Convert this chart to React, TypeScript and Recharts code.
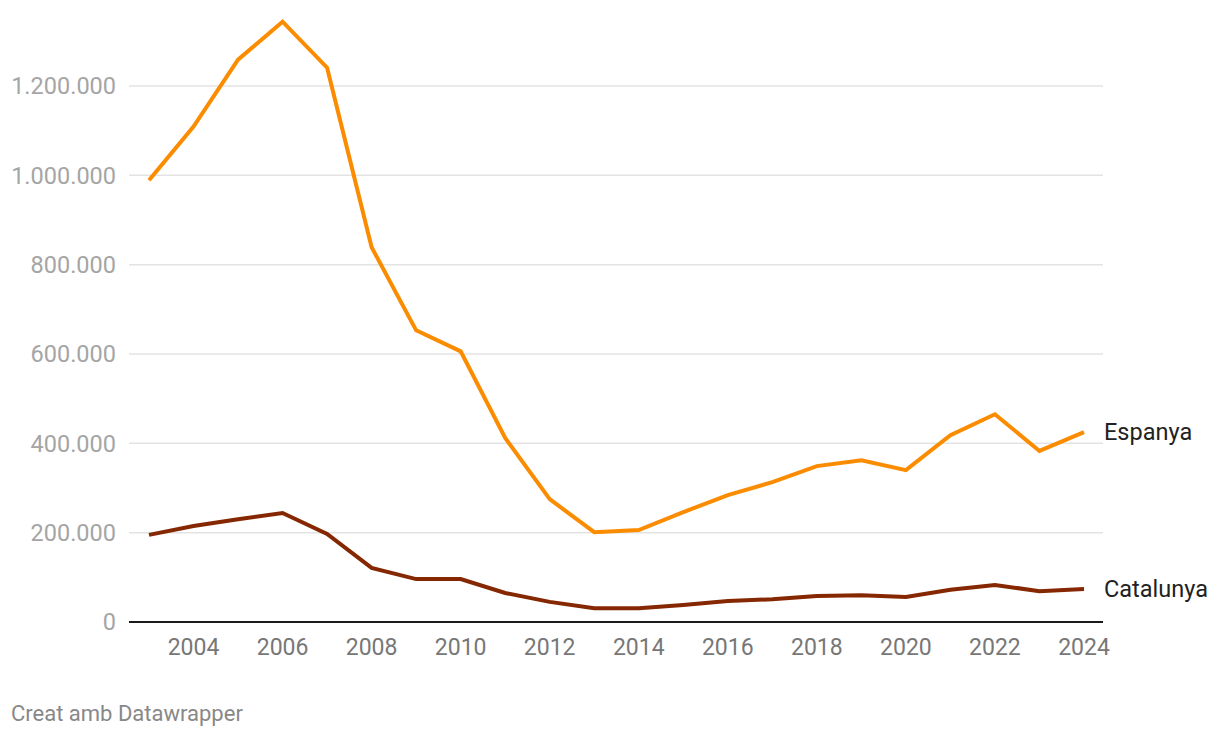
import { CartesianGrid, Line, LineChart, XAxis, YAxis } from "recharts";

const years = [
  2003, 2004, 2005, 2006, 2007, 2008, 2009, 2010, 2011, 2012, 2013, 2014, 2015, 2016, 2017, 2018,
  2019, 2020, 2021, 2022, 2023, 2024,
];
const espanya = [
  989000, 1109000, 1259000, 1344000, 1241000, 839000, 653000, 606000, 412000, 275000, 201000,
  206000, 246000, 284000, 313000, 349000, 362000, 340000, 418000, 465000, 383000, 425000,
];
const catalunya = [
  195000, 215000, 230000, 244000, 197000, 121000, 96000, 96000, 65000, 45000, 31000, 31000, 38000,
  47000, 51000, 58000, 60000, 56000, 72000, 83000, 69000, 74000,
];
const yTicks = [0, 200000, 400000, 600000, 800000, 1000000, 1200000];
const xTicks = [2004, 2006, 2008, 2010, 2012, 2014, 2016, 2018, 2020, 2022, 2024];

const data = years.map((year, i) => ({
  year,
  Espanya: espanya[i],
  Catalunya: catalunya[i],
}));

const font = "Roboto, 'Noto Sans', sans-serif";

const fmt = (v: number) => v.toString().replace(/\B(?=(\d{3})+(?!\d))/g, ".");

function endLabel(name: string) {
  return (props: any) => {
    if (props.index !== years.length - 1) return null;
    return (
      <text
        x={props.x + 20}
        y={props.y}
        dominantBaseline="central"
        fontSize={23.5}
        fontFamily={font}
        fill="#222"
      >
        {name}
      </text>
    );
  };
}

export default function App() {
  return (
    <div style={{ position: "absolute", left: 0, top: 0, width: 1220, height: 738, background: "#fff" }}>
      <LineChart
        width={1220}
        height={680}
        data={data}
        margin={{ top: 19, right: 117, bottom: 18, left: 0 }}
      >
        <CartesianGrid
          vertical={false}
          horizontalValues={yTicks}
          stroke="#e3e3e3"
          strokeWidth={1.5}
        />
        <XAxis
          dataKey="year"
          type="number"
          domain={[2003, 2024]}
          ticks={xTicks}
          padding={{ left: 20, right: 19 }}
          height={40}
          tickSize={0}
          tickMargin={17}
          axisLine={{ stroke: "#1a1a1a", strokeWidth: 2 }}
          tick={{ fill: "#777", fontSize: 23, fontFamily: font }}
        />
        <YAxis
          domain={[0, 1350000]}
          ticks={yTicks}
          width={129}
          tickSize={0}
          tickMargin={13}
          axisLine={false}
          tickLine={false}
          tickFormatter={fmt}
          tick={{ fill: "#a5a5a5", fontSize: 23.5, fontFamily: font }}
        />
        <Line
          dataKey="Espanya"
          stroke="#fb8c00"
          strokeWidth={4}
          dot={false}
          isAnimationActive={false}
          label={endLabel("Espanya")}
        />
        <Line
          dataKey="Catalunya"
          stroke="#852700"
          strokeWidth={4}
          dot={false}
          isAnimationActive={false}
          label={endLabel("Catalunya")}
        />
      </LineChart>
      <div
        style={{
          position: "absolute",
          left: 11,
          top: 701,
          fontFamily: font,
          fontSize: 22,
          color: "#888",
          lineHeight: "26px",
        }}
      >
        Creat amb Datawrapper
      </div>
    </div>
  );
}
